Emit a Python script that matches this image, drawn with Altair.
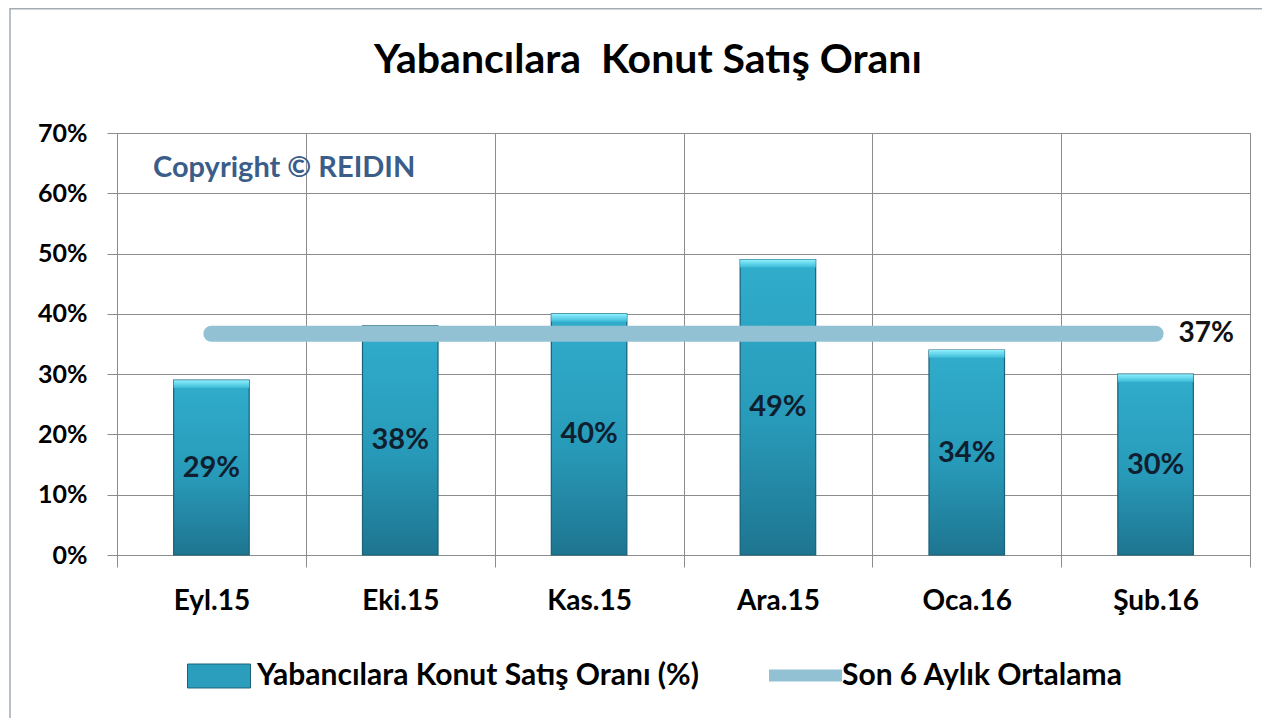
import altair as alt
import pandas as pd

# ---- data ----
months = ["Eyl.15", "Eki.15", "Kas.15", "Ara.15", "Oca.16", "Şub.16"]
rates = [0.29, 0.38, 0.40, 0.49, 0.34, 0.30]
avg_months = ["Eyl.15", "Şub.16"]
avg_value = 0.367
avg_label = "37%"
bar_series = "Yabancılara Konut Satış Oranı (%)"
avg_series = "Son 6 Aylık Ortalama"
title_text = "Yabancılara\u00a0 Konut Satış Oranı"
copyright_text = "Copyright © REIDIN"
y_ticks = [0, 0.1, 0.2, 0.3, 0.4, 0.5, 0.6, 0.7]

FONT = "Lato"
GRID = "#8c8c8c"

bars_df = pd.DataFrame({"month": months, "rate": rates, "series": bar_series})
avg_df = pd.DataFrame({"month": avg_months, "avg": [avg_value] * len(avg_months),
                       "series": avg_series})
avg_end_df = pd.DataFrame({"month": [avg_months[-1]], "avg": [avg_value], "label": [avg_label]})
copy_df = pd.DataFrame({"t": [copyright_text]})
title_df = pd.DataFrame({"t": [title_text]})
frame_df = pd.DataFrame({"k": [0]})

x_enc = alt.X(
    "month:N",
    sort=months,
    scale=alt.Scale(paddingInner=0, paddingOuter=0),
    axis=alt.Axis(
        title=None, labelAngle=0, tickBand="extent", grid=True, gridColor=GRID,
        tickColor=GRID, domainColor=GRID, tickSize=12, labelPadding=20,
        labelFont=FONT, labelFontSize=28, labelFontWeight="bold", labelColor="#000000",
    ),
)
y_scale = alt.Scale(domain=[0, 0.7], nice=False)
y_enc = alt.Y(
    "rate:Q",
    scale=y_scale,
    axis=alt.Axis(
        title=None, values=y_ticks, format=".0%", grid=True, gridColor=GRID,
        tickColor=GRID, domainColor=GRID, tickSize=10, labelPadding=20,
        labelFont=FONT, labelFontSize=25, labelFontWeight="bold", labelColor="#000000",
    ),
)

base = alt.Chart(bars_df)

# outer frame of the chart card
frame = alt.Chart(frame_df).mark_rect(
    fill=None, stroke="#a3abb4", strokeWidth=1.5
).encode(x=alt.value(-107), x2=alt.value(1150), y=alt.value(-124.2), y2=alt.value(600))

title_mark = alt.Chart(title_df).mark_text(
    font=FONT, fontSize=41, fontWeight="bold", color="#000000",
    align="center", baseline="alphabetic",
).encode(x=alt.value(531), y=alt.value(-60), text="t:N")

# legend carrier (solid fill) - hidden under gradient bar
bar_legend = base.mark_bar(width=alt.RelativeBandSize(0.4)).encode(
    x=x_enc,
    y=y_enc,
    fill=alt.Fill(
        "series:N",
        scale=alt.Scale(domain=[bar_series], range=["#2b9dbd"]),
        legend=alt.Legend(
            title=None, orient="none", legendX=70, legendY=511,
            symbolType="M-1,-0.38H1V0.38H-1Z", symbolSize=3969,
            symbolStrokeColor="#1b6279", symbolStrokeWidth=1,
            labelFont=FONT, labelFontSize=30, labelFontWeight="bold",
            labelColor="#000000", labelOffset=6, labelLimit=1000,
        ),
    ),
)

bar_grad = base.mark_bar(
    width=alt.RelativeBandSize(0.4),
    stroke="#1b6279",
    strokeWidth=1.2,
    color=alt.Gradient(
        gradient="linear", x1=0, y1=0, x2=0, y2=1,
        stops=[
            alt.GradientStop(color="#31adcc", offset=0),
            alt.GradientStop(color="#289ab9", offset=0.55),
            alt.GradientStop(color="#1e7590", offset=1),
        ],
    ),
).encode(x=alt.X("month:N", sort=months), y=alt.Y("rate:Q", scale=y_scale))

bevel = base.transform_calculate(top2="datum.rate - 0.013").mark_bar(
    width=alt.RelativeBandSize(0.4),
    color=alt.Gradient(
        gradient="linear", x1=0, y1=0, x2=0, y2=1,
        stops=[
            alt.GradientStop(color="#8ef0fd", offset=0),
            alt.GradientStop(color="#3cbad8", offset=1),
        ],
    ),
).encode(x=alt.X("month:N", sort=months), y=alt.Y("rate:Q", scale=y_scale), y2="top2:Q")

bar_labels = base.transform_calculate(mid="datum.rate / 2").mark_text(
    font=FONT, fontSize=29, fontWeight="bold", color="#0f1f30", baseline="middle",
).encode(
    x=alt.X("month:N", sort=months),
    y=alt.Y("mid:Q", scale=y_scale),
    text=alt.Text("rate:Q", format=".0%"),
)

avg_line = alt.Chart(avg_df).mark_line(strokeWidth=16, strokeCap="round").encode(
    x=alt.X("month:N", sort=months),
    y=alt.Y("avg:Q", scale=y_scale),
    stroke=alt.Stroke(
        "series:N",
        scale=alt.Scale(domain=[avg_series], range=["#92c1d3"]),
        legend=alt.Legend(
            title=None, orient="none", legendX=646, legendY=503,
            symbolType="M-1,0H1.18", symbolSize=4489, symbolStrokeWidth=12,
            labelFont=FONT, labelFontSize=30, labelFontWeight="bold",
            labelColor="#000000", labelOffset=0, labelLimit=1000,
        ),
    ),
)

avg_text = alt.Chart(avg_end_df).mark_text(
    font=FONT, fontSize=28, fontWeight="bold", color="#111111",
    align="left", baseline="middle", dx=23,
).encode(
    x=alt.X("month:N", sort=months),
    y=alt.Y("avg:Q", scale=y_scale),
    text="label:N",
)

copyright_mark = alt.Chart(copy_df).mark_text(
    font=FONT, fontSize=29, fontWeight="bold", color="#3a5d8a",
    align="left", baseline="alphabetic",
).encode(x=alt.value(36), y=alt.value(44), text="t:N")

chart = alt.layer(
    frame, bar_legend, bar_grad, bevel, bar_labels, avg_line, avg_text,
    copyright_mark, title_mark
).resolve_scale(
    fill="independent", stroke="independent"
).properties(
    width=1133,
    height=422,
    autosize=alt.AutoSizeParams(type="none"),
    padding={"left": 109, "top": 125, "right": 12, "bottom": 163},
    background="white",
).configure_view(stroke=GRID)

chart.save("out.html", embed_options={"renderer": "svg", "actions": False})
